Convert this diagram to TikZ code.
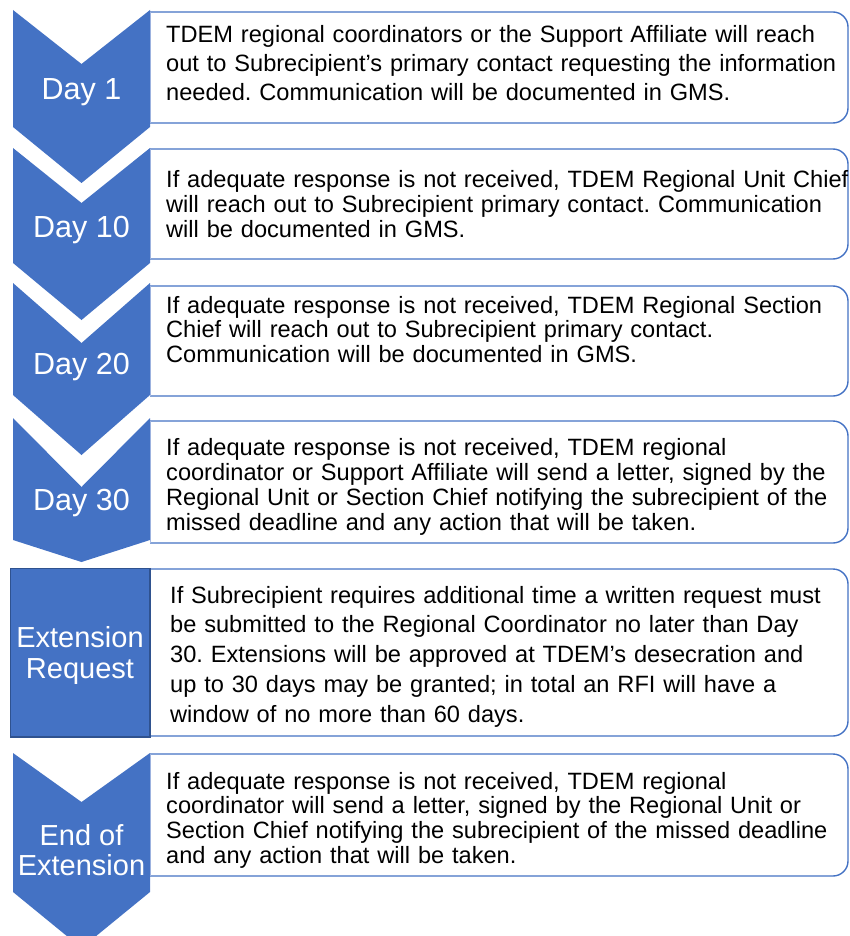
\documentclass[tikz,border=0pt]{standalone}
\usepackage{fontspec}
\setmainfont{Liberation Sans}
\definecolor{accent}{HTML}{4472C4}
\definecolor{accentdark}{HTML}{2F528F}
\definecolor{accentlight}{HTML}{A9BCE3}
\begin{document}
\frenchspacing
\begin{tikzpicture}[x=1pt,y=-1pt,
  chev/.style={fill=accent,draw=none},
  infobox/.style={draw=accent,line width=1.4pt,fill=white,rounded corners=15pt},
  leftedge/.style={draw=accentlight,line width=0.8pt},
  daylabel/.style={text=white,font=\fontsize{30.5}{31}\selectfont,inner sep=0pt,anchor=base},
  twolabel/.style={text=white,font=\fontsize{29}{30.5}\selectfont,inner sep=0pt,align=center,anchor=north},
  bodytext/.style={inner sep=0pt,anchor=north west,align=left,text width=730pt}
]
\useasboundingbox (0,0) rectangle (849,936);
\clip (0,0) rectangle (849,936);
% ---- text boxes (right rounded corners)
\foreach \t/\b in {12/123,149/259,286/396,421/543,569/736,754/876}{
  \path[infobox] (150,\t) -- (848,\t) -- (848,\b) -- (150,\b);
  \draw[leftedge] (150.5,\t) -- (150.5,\b);
}
% ---- chevrons
\foreach \t/\n/\s/\p in {10/64/127/183,148/203/263/320,283/343/395/455,418/487/540/562,753/802/892/948}{
  \path[chev] (13,\t) -- (81.5,\n) -- (150,\t) -- (150,\s) -- (81.5,\p) -- (13,\s) -- cycle;
}
% ---- extension request rectangle
\path[fill=accent,draw=accentdark,line width=1.6pt] (10.5,568.5) rectangle (150,737);
% ---- labels
\node[daylabel] (d1) at (81.5,100) {Day 1};
\node[daylabel] (d10) at (81.5,237) {Day 10};
\node[daylabel] (d20) at (81.5,374) {Day 20};
\node[daylabel] (d30) at (81.5,510) {Day 30};
\node[twolabel] (ext) at (80,626.5) {Extension\\Request};
\node[twolabel] (end) at (81.5,824) {End of\\Extension};
% ---- body texts
\node[bodytext,font=\fontsize{23.6}{29}\selectfont] (t1) at (166,24.8)
 {TDEM regional coordinators or the Support Affiliate will reach\\
  out to Subrecipient’s primary contact requesting the information\\
  needed. Communication will be documented in GMS.};
\node[bodytext,font=\fontsize{23.6}{25}\selectfont] (t2) at (166,169.8)
 {If adequate response is not received, TDEM Regional Unit Chief\\
  will reach out to Subrecipient primary contact. Communication\\
  will be documented in GMS.};
\node[bodytext,font=\fontsize{23.6}{24.5}\selectfont] (t3) at (166,295.8)
 {If adequate response is not received, TDEM Regional Section\\
  Chief will reach out to Subrecipient primary contact.\\
  Communication will be documented in GMS.};
\node[bodytext,font=\fontsize{23.6}{25}\selectfont] (t4) at (166,437.8)
 {If adequate response is not received, TDEM regional\\
  coordinator or Support Affiliate will send a letter, signed by the\\
  Regional Unit or Section Chief notifying the subrecipient of the\\
  missed deadline and any action that will be taken.};
\node[bodytext,font=\fontsize{23.6}{29.75}\selectfont] (t5) at (170,585.8)
 {If Subrecipient requires additional time a written request must\\
  be submitted to the Regional Coordinator no later than Day\\
  30. Extensions will be approved at TDEM’s desecration and\\
  up to 30 days may be granted; in total an RFI will have a\\
  window of no more than 60 days.};
\node[bodytext,font=\fontsize{23.6}{24.7}\selectfont] (t6) at (166,771.8)
 {If adequate response is not received, TDEM regional\\
  coordinator will send a letter, signed by the Regional Unit or\\
  Section Chief notifying the subrecipient of the missed deadline\\
  and any action that will be taken.};
\end{tikzpicture}
\end{document}
